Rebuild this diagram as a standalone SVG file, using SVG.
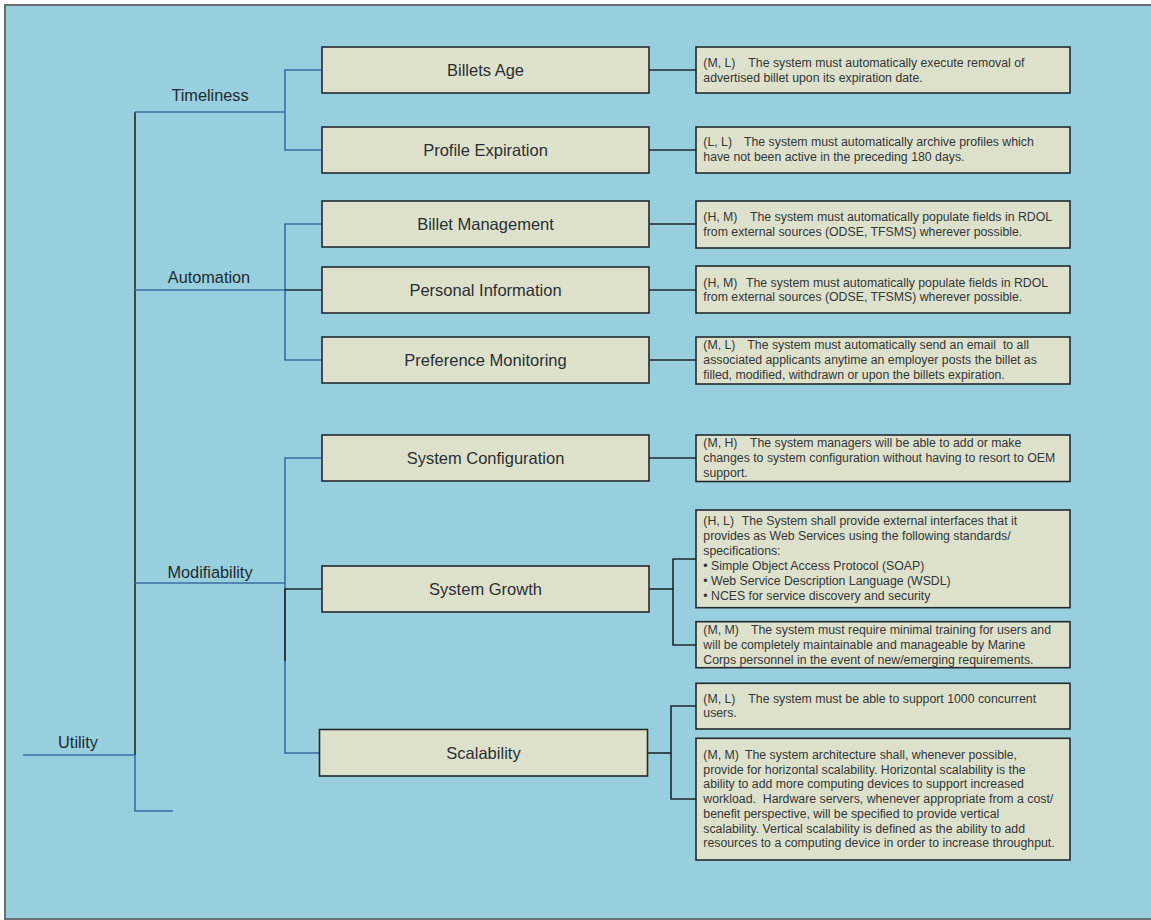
<svg xmlns="http://www.w3.org/2000/svg" width="1151" height="920" viewBox="0 0 1151 920">
<style>
.bg{fill:#97cfde;stroke:#6a6f72;stroke-width:2}
.box{fill:#dde1cb;stroke:#232a2e;stroke-width:1.6}
.lbl{font-family:"Liberation Sans",Arial,sans-serif;font-size:16.5px;fill:#2a2f33;text-anchor:middle}
.cat{font-family:"Liberation Sans",Arial,sans-serif;font-size:16.3px;fill:#222a30;text-anchor:middle}
.d{font-family:"Liberation Sans",Arial,sans-serif;font-size:12.3px;fill:#333638}
.bl{fill:none;stroke:#3a6ca3;stroke-width:1.6}
.dk{fill:none;stroke:#1e272d;stroke-width:1.6}
</style>
<rect x="0" y="0" width="1151" height="920" fill="#ffffff"/>
<rect class="bg" x="5" y="5" width="1170" height="914"/>
<g id="connectors">
<polyline class="dk" points="135,112 135,755"/>
<polyline class="bl" points="135,755 135,811 173,811"/>
<polyline class="bl" points="23,755 135,755"/>
<polyline class="bl" points="135,112 285,112"/>
<polyline class="bl" points="322,70 285,70 285,150 322,150"/>
<polyline class="bl" points="135,290 285,290"/>
<polyline class="bl" points="322,224 285,224 285,360 322,360"/>
<polyline class="dk" points="285,290 322,290"/>
<polyline class="bl" points="135,583 285,583"/>
<polyline class="bl" points="322,458 285,458 285,753 319.5,753"/>
<polyline class="dk" points="322,589 285,589 285,661"/>
<polyline class="dk" points="649,70 696,70"/>
<polyline class="dk" points="649,150 696,150"/>
<polyline class="dk" points="649,224 696,224"/>
<polyline class="dk" points="649,290 696,290"/>
<polyline class="dk" points="649,360 696,360"/>
<polyline class="dk" points="649,458 696,458"/>
<polyline class="dk" points="649,589 673,589"/>
<polyline class="dk" points="696,559 673,559 673,645 696,645"/>
<polyline class="dk" points="647.5,753 671,753"/>
<polyline class="dk" points="696,706 671,706 671,799 696,799"/>
</g>
<g id="utility"><text class="cat" x="78" y="748">Utility</text></g>
<g id="timeliness"><text class="cat" x="210" y="101">Timeliness</text></g>
<g id="automation"><text class="cat" x="209" y="283">Automation</text></g>
<g id="modifiability"><text class="cat" x="210" y="577.5">Modifiability</text></g>
<g id="billets-age"><rect class="box" x="322" y="47" width="327" height="46"/><text class="lbl" x="485.5" y="75.8">Billets Age</text></g>
<g id="profile-expiration"><rect class="box" x="322" y="127" width="327" height="46"/><text class="lbl" x="485.5" y="155.8">Profile Expiration</text></g>
<g id="billet-management"><rect class="box" x="322" y="201" width="327" height="46"/><text class="lbl" x="485.5" y="229.8">Billet Management</text></g>
<g id="personal-information"><rect class="box" x="322" y="267" width="327" height="46"/><text class="lbl" x="485.5" y="295.8">Personal Information</text></g>
<g id="preference-monitoring"><rect class="box" x="322" y="337" width="327" height="46"/><text class="lbl" x="485.5" y="365.8">Preference Monitoring</text></g>
<g id="system-configuration"><rect class="box" x="322" y="435" width="327" height="46"/><text class="lbl" x="485.5" y="463.8">System Configuration</text></g>
<g id="system-growth"><rect class="box" x="322" y="566" width="327" height="46"/><text class="lbl" x="485.5" y="594.8">System Growth</text></g>
<g id="scalability"><rect class="box" x="319.5" y="729.5" width="328" height="46.5"/><text class="lbl" x="483.5" y="758.5">Scalability</text></g>
<g id="req-billets-age"><rect class="box" x="696" y="47" width="374" height="46"/>
<text class="d" x="703.3" y="66.8"><tspan>(M, L)</tspan><tspan x="748.3">The system must automatically execute removal of</tspan></text>
<text class="d" x="703.3" y="81.8">advertised billet upon its expiration date.</text></g>
<g id="req-profile-expiration"><rect class="box" x="696" y="127" width="374" height="46"/>
<text class="d" x="703.3" y="145.5"><tspan>(L, L)</tspan><tspan x="744">The system must automatically archive profiles which</tspan></text>
<text class="d" x="703.3" y="160.5">have not been active in the preceding 180 days.</text></g>
<g id="req-billet-management"><rect class="box" x="696" y="201" width="374" height="47"/>
<text class="d" x="703.3" y="221"><tspan>(H, M)</tspan><tspan x="750">The system must automatically populate fields in RDOL</tspan></text>
<text class="d" x="703.3" y="236">from external sources (ODSE, TFSMS) wherever possible.</text></g>
<g id="req-personal-information"><rect class="box" x="696" y="266" width="374" height="47"/>
<text class="d" x="703.3" y="286.7"><tspan>(H, M)</tspan><tspan x="746">The system must automatically populate fields in RDOL</tspan></text>
<text class="d" x="703.3" y="301">from external sources (ODSE, TFSMS) wherever possible.</text></g>
<g id="req-preference-monitoring"><rect class="box" x="696" y="337" width="374" height="47"/>
<text class="d" x="703.3" y="349.4" xml:space="preserve"><tspan>(M, L)</tspan><tspan x="747.3">The system must automatically send an email  to all</tspan></text>
<text class="d" x="703.3" y="364">associated applicants anytime an employer posts the billet as</text>
<text class="d" x="703.3" y="378.7">filled, modified, withdrawn or upon the billets expiration.</text></g>
<g id="req-system-configuration"><rect class="box" x="696" y="435" width="374" height="46.5"/>
<text class="d" x="703.3" y="446.7"><tspan>(M, H)</tspan><tspan x="750">The system managers will be able to add or make</tspan></text>
<text class="d" x="703.3" y="462">changes to system configuration without having to resort to OEM</text>
<text class="d" x="703.3" y="477.4">support.</text></g>
<g id="req-system-growth-1"><rect class="box" x="696" y="510" width="374" height="97.7"/>
<text class="d" x="703.3" y="525.4"><tspan>(H, L)</tspan><tspan x="741.7">The System shall provide external interfaces that it</tspan></text>
<text class="d" x="703.3" y="540.4">provides as Web Services using the following standards/</text>
<text class="d" x="703.3" y="555.4">specifications:</text>
<text class="d" x="703.3" y="570.4">• Simple Object Access Protocol (SOAP)</text>
<text class="d" x="703.3" y="585.4">• Web Service Description Language (WSDL)</text>
<text class="d" x="703.3" y="600">• NCES for service discovery and security</text></g>
<g id="req-system-growth-2"><rect class="box" x="696" y="621.7" width="374" height="46"/>
<text class="d" x="703.3" y="633.7"><tspan>(M, M)</tspan><tspan x="751">The system must require minimal training for users and</tspan></text>
<text class="d" x="703.3" y="649">will be completely maintainable and manageable by Marine</text>
<text class="d" x="703.3" y="663.5">Corps personnel in the event of new/emerging requirements.</text></g>
<g id="req-scalability-1"><rect class="box" x="696" y="683.3" width="374" height="45.7"/>
<text class="d" x="703.3" y="702.7"><tspan>(M, L)</tspan><tspan x="748.3">The system must be able to support 1000 concurrent</tspan></text>
<text class="d" x="703.3" y="717">users.</text></g>
<g id="req-scalability-2"><rect class="box" x="696" y="738.3" width="374" height="121.7"/>
<text class="d" x="703.3" y="759.4"><tspan>(M, M)</tspan><tspan x="745">The system architecture shall, whenever possible,</tspan></text>
<text class="d" x="703.3" y="773.7">provide for horizontal scalability. Horizontal scalability is the</text>
<text class="d" x="703.3" y="788.4">ability to add more computing devices to support increased</text>
<text class="d" x="703.3" y="803.4" xml:space="preserve">workload.  Hardware servers, whenever appropriate from a cost/</text>
<text class="d" x="703.3" y="817.7">benefit perspective, will be specified to provide vertical</text>
<text class="d" x="703.3" y="832.7">scalability. Vertical scalability is defined as the ability to add</text>
<text class="d" x="703.3" y="847">resources to a computing device in order to increase throughput.</text></g>
</svg>
